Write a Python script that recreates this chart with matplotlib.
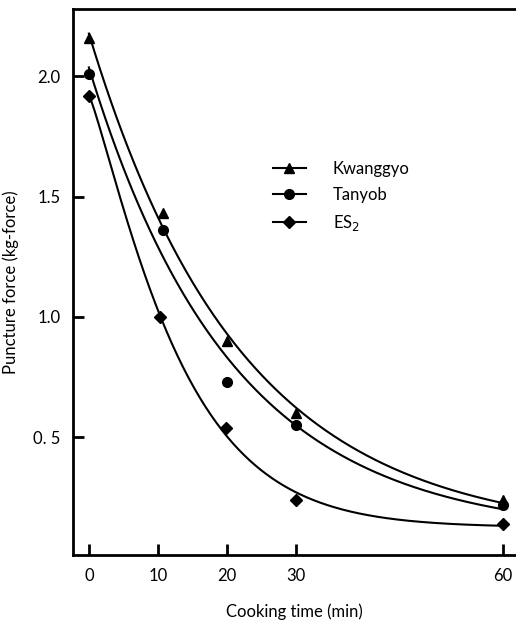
import numpy as np
import matplotlib.pyplot as plt

# cooking time (min) and puncture force (kg-force)
t_kw = [0, 10.7, 20, 30, 60]
kwanggyo = [2.16, 1.43, 0.90, 0.60, 0.24]
t_ta = [0, 10.7, 20, 30, 60]
tanyob = [2.01, 1.36, 0.73, 0.55, 0.22]
t_es = [0, 10.3, 19.8, 30, 60]
es2 = [1.92, 1.00, 0.54, 0.24, 0.14]

xticks = [0, 10, 20, 30, 60]
yticks = [0.5, 1.0, 1.5, 2.0]
ytick_labels = ['0. 5', '1.0', '1.5', '2.0']

# last item: allow a stretched exponential (True) or plain exponential (False)
series = [
    (t_kw, kwanggyo, '^', 'Kwanggyo', False),
    (t_ta, tanyob, 'o', 'Tanyob', False),
    (t_es, es2, 'D', 'ES$_2$', True),
]


def fit_decay(t, y, stretched):
    # y = c + a*exp(-(t/s)**p); s, p by grid search, a and c by least squares
    t = np.asarray(t, float)
    y = np.asarray(y, float)
    ps = np.linspace(0.8, 2.0, 61) if stretched else [1.0]
    best = None
    for s in np.linspace(4, 60, 300):
        for p in ps:
            A = np.column_stack([np.ones_like(t), np.exp(-(t / s) ** p)])
            sol = np.linalg.lstsq(A, y, rcond=None)[0]
            err = np.sum((A @ sol - y) ** 2)
            if best is None or err < best[0]:
                best = (err, s, p, sol)
    _, s, p, (c, a) = best
    return lambda x: c + a * np.exp(-(x / s) ** p)


plt.rcParams['font.family'] = 'Lato'

fig = plt.figure(figsize=(5.16, 6.22), dpi=100)
ax = fig.add_axes([0.1415, 0.1077, 0.8585, 0.8778])

tt = np.linspace(0, 60, 300)
for t, y, m, name, stretched in series:
    f = fit_decay(t, y, stretched)
    ms = 7 if m != 'D' else 6
    ax.plot(tt, f(tt), color='black', lw=1.5)
    ax.plot(t, y, linestyle='none', marker=m, color='black', markersize=ms)
    ax.plot([], [], color='black', lw=1.5, marker=m, markersize=ms, label=name)

ax.set_xlim(-2.3, 61.9)
ax.set_ylim(0.01, 2.28)
ax.set_xticks(xticks)
ax.set_yticks(yticks)
ax.set_yticklabels(ytick_labels)
ax.tick_params(direction='in', length=8, width=2, labelsize=12, pad=9)
ax.spines['right'].set_visible(False)
for s in ['left', 'bottom', 'top']:
    ax.spines[s].set_linewidth(2)

ax.set_xlabel('Cooking time (min)', fontsize=12, labelpad=14)
ax.set_ylabel('Puncture force (kg-force)', fontsize=12, labelpad=10)

ax.legend(loc='upper left', bbox_to_anchor=(0.417, 0.75), frameon=False,
          fontsize=12, handlelength=2.0, labelspacing=0.6, handletextpad=1.6)

fig.savefig('out.png', dpi=100)
